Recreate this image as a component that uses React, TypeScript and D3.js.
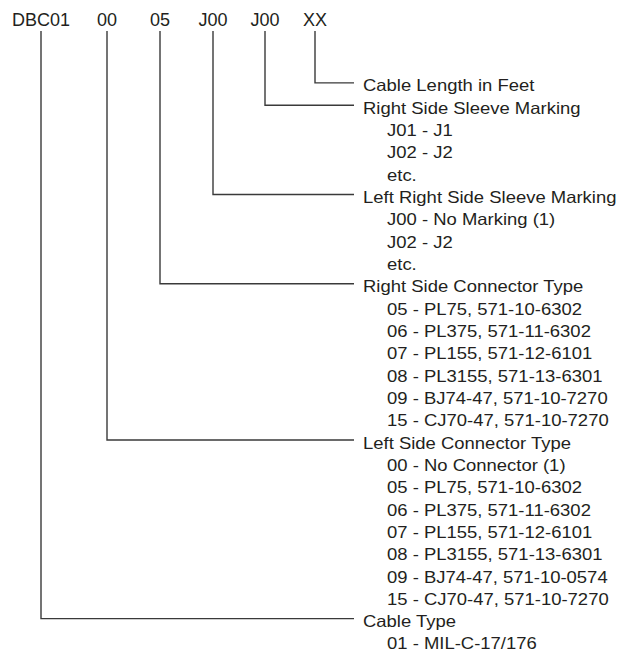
import React from 'react';
import * as d3 from 'd3';

// part number segments, left to right
const codes = ['DBC01', '00', '05', 'J00', 'J00', 'XX'];

// fields listed top to bottom, each tied to one segment
const fieldTitles = [
  'Cable Length in Feet',
  'Right Side Sleeve Marking',
  'Left Right Side Sleeve Marking',
  'Right Side Connector Type',
  'Left Side Connector Type',
  'Cable Type',
];
const fieldCode = [5, 4, 3, 2, 1, 0];
const fieldOptions = [
  [],
  ['J01 - J1', 'J02 - J2', 'etc.'],
  ['J00 - No Marking (1)', 'J02 - J2', 'etc.'],
  [
    '05 - PL75, 571-10-6302',
    '06 - PL375, 571-11-6302',
    '07 - PL155, 571-12-6101',
    '08 - PL3155, 571-13-6301',
    '09 - BJ74-47, 571-10-7270',
    '15 - CJ70-47, 571-10-7270',
  ],
  [
    '00 - No Connector (1)',
    '05 - PL75, 571-10-6302',
    '06 - PL375, 571-11-6302',
    '07 - PL155, 571-12-6101',
    '08 - PL3155, 571-13-6301',
    '09 - BJ74-47, 571-10-0574',
    '15 - CJ70-47, 571-10-7270',
  ],
  ['01 - MIL-C-17/176'],
];

// layout
const W = 631;
const H = 653;
const codeX = [41, 107, 160, 213, 265, 315]; // leader column for each segment
const headerY = 26;
const leaderTop = 31;
const leaderEnd = 354;
const titleX = 363;
const optionX = 387;
const stretch = 1.12; // the list text is set a little wide
const ink = '#231f20';
const lineColor = '#3a3a3a';
const font = "Arial, 'Liberation Sans', Helvetica, sans-serif";

export default function App() {
  // flatten into rows
  const rows: { text: string; kind: 'title' | 'option'; field: number }[] = [];
  fieldTitles.forEach((t, i) => {
    rows.push({ text: t, kind: 'title', field: i });
    fieldOptions[i].forEach((o) => rows.push({ text: o, kind: 'option', field: i }));
  });

  const y = d3.scaleLinear().domain([0, rows.length - 1]).range([91.5, 649.5]);

  const leaders = rows
    .map((r, i) => ({ ...r, i }))
    .filter((r) => r.kind === 'title')
    .map((r) => {
      const x0 = codeX[fieldCode[r.field]];
      const yy = y(r.i) - 8.6;
      return d3.line()([
        [x0, leaderTop],
        [x0, yy],
        [leaderEnd, yy],
      ]);
    });

  return (
    <svg
      width={W}
      height={H}
      viewBox={`0 0 ${W} ${H}`}
      style={{ position: 'absolute', left: 0, top: 0, background: '#fff' }}
    >
      <rect width={W} height={H} fill="#fff" />
      <g fontFamily={font} fill={ink}>
        {codes.map((c, i) => (
          <text key={i} x={codeX[i]} y={headerY} fontSize={18} textAnchor="middle">
            {c}
          </text>
        ))}
      </g>
      <g fill="none" stroke={lineColor} strokeWidth={1.4}>
        {leaders.map((d, i) => (
          <path key={i} d={d ?? ''} />
        ))}
      </g>
      <g fontFamily={font} fill={ink} fontSize={16.5} transform={`scale(${stretch},1)`}>
        {rows.map((r, i) => (
          <text key={i} x={(r.kind === 'title' ? titleX : optionX) / stretch} y={y(i)}>
            {r.text}
          </text>
        ))}
      </g>
    </svg>
  );
}
